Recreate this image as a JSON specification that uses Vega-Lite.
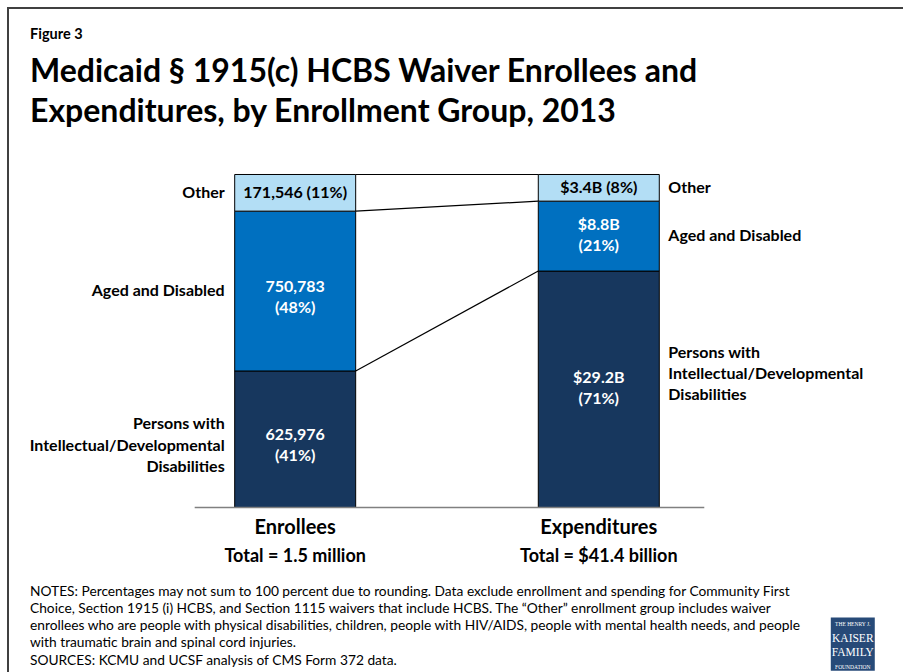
{
  "$schema": "https://vega.github.io/schema/vega-lite/v6.json",
  "width": 895,
  "height": 664,
  "autosize": {"type": "none"},
  "padding": {"left": 8, "top": 8, "right": 0, "bottom": 0},
  "background": "white",
  "config": {
    "view": {"stroke": "#404040", "strokeWidth": 2, "strokeDash": [895, 1559, 664]},
    "font": "Lato",
    "text": {"font": "Lato"}
  },
  "title": {
    "text": "Figure 3",
    "subtitle": ["Medicaid § 1915(c) HCBS Waiver Enrollees and", "Expenditures, by Enrollment Group, 2013"],
    "anchor": "start",
    "frame": "group",
    "orient": "top",
    "dx": 22,
    "offset": -121,
    "font": "Lato",
    "fontSize": 14.5,
    "fontWeight": "bold",
    "color": "black",
    "subtitleFont": "Lato",
    "subtitleFontSize": 32,
    "subtitleFontWeight": "bold",
    "subtitleColor": "black",
    "subtitleLineHeight": 40,
    "subtitlePadding": 15
  },
  "datasets": {
    "groups": [
      {"measure": "Enrollees", "category": "Persons with Intellectual/Developmental Disabilities", "rank": 1, "value": 625976, "pct": 41, "label": "625,976\n(41%)", "catLabel": "Persons with\nIntellectual/Developmental\nDisabilities"},
      {"measure": "Enrollees", "category": "Aged and Disabled", "rank": 2, "value": 750783, "pct": 48, "label": "750,783\n(48%)", "catLabel": "Aged and Disabled"},
      {"measure": "Enrollees", "category": "Other", "rank": 3, "value": 171546, "pct": 11, "label": "171,546 (11%)", "catLabel": "Other"},
      {"measure": "Expenditures", "category": "Persons with Intellectual/Developmental Disabilities", "rank": 1, "value": 29.2, "pct": 71, "label": "$29.2B\n(71%)", "catLabel": "Persons with\nIntellectual/Developmental\nDisabilities"},
      {"measure": "Expenditures", "category": "Aged and Disabled", "rank": 2, "value": 8.8, "pct": 21, "label": "$8.8B\n(21%)", "catLabel": "Aged and Disabled"},
      {"measure": "Expenditures", "category": "Other", "rank": 3, "value": 3.4, "pct": 8, "label": "$3.4B (8%)", "catLabel": "Other"}
    ],
    "totals": [
      {"measure": "Enrollees", "name": "Enrollees", "total": "Total = 1.5 million"},
      {"measure": "Expenditures", "name": "Expenditures", "total": "Total = $41.4 billion"}
    ],
    "notes": [
      {"text": "NOTES: Percentages may not sum to 100 percent due to rounding. Data exclude enrollment and spending for Community First\nChoice, Section 1915 (i) HCBS, and Section 1115 waivers that include HCBS. The “Other” enrollment group includes waiver\nenrollees who are people with physical disabilities, children, people with HIV/AIDS, people with mental health needs, and people\nwith traumatic brain and spinal cord injuries.\nSOURCES: KCMU and UCSF analysis of CMS Form 372 data."}
    ],
    "logo": [
      {"top": "THE HENRY J.", "big": "KAISER\nFAMILY", "bottom": "FOUNDATION"}
    ]
  },
  "layer": [
    {
      "data": {"name": "groups"},
      "transform": [
        {"stack": "pct", "groupby": ["measure"], "sort": [{"field": "rank"}], "offset": "normalize", "as": ["y0", "y1"]}
      ],
      "mark": {"type": "bar", "stroke": "black", "strokeWidth": 1},
      "encoding": {
        "x": {
          "field": "measure",
          "type": "nominal",
          "scale": {"type": "band", "domain": ["Enrollees", "Expenditures"], "paddingInner": 0.6015, "paddingOuter": 0.7747, "align": 0.4819},
          "axis": null
        },
        "y": {"field": "y0", "type": "quantitative", "scale": {"domain": [-0.494, 1.5], "nice": false, "zero": false}, "axis": null},
        "y2": {"field": "y1"},
        "color": {
          "field": "category",
          "type": "nominal",
          "scale": {"domain": ["Persons with Intellectual/Developmental Disabilities", "Aged and Disabled", "Other"], "range": ["#17375E", "#0070C0", "#B3DEF5"]},
          "legend": null
        }
      }
    },
    {
      "data": {"name": "groups"},
      "transform": [
        {"stack": "pct", "groupby": ["measure"], "sort": [{"field": "rank"}], "offset": "normalize", "as": ["y0", "y1"]},
        {"pivot": "measure", "value": "y1", "groupby": ["category"]}
      ],
      "mark": {"type": "rule", "color": "black", "strokeWidth": 1.2},
      "encoding": {
        "x": {"datum": "Enrollees", "type": "nominal", "bandPosition": 1, "axis": null},
        "x2": {"datum": "Expenditures", "bandPosition": 0},
        "y": {"field": "Enrollees", "type": "quantitative", "axis": null},
        "y2": {"field": "Expenditures"}
      }
    },
    {
      "data": {"values": [{}]},
      "mark": {"type": "rule", "color": "#808080", "strokeWidth": 1.5, "xOffset": -40, "x2Offset": 45},
      "encoding": {
        "x": {"datum": "Enrollees", "type": "nominal", "bandPosition": 0, "axis": null},
        "x2": {"datum": "Expenditures", "bandPosition": 1},
        "y": {"datum": 0, "type": "quantitative", "axis": null}
      }
    },
    {
      "data": {"name": "groups"},
      "transform": [
        {"stack": "pct", "groupby": ["measure"], "sort": [{"field": "rank"}], "offset": "normalize", "as": ["y0", "y1"]},
        {"fold": ["y0", "y1"], "as": ["k", "v"]},
        {"aggregate": [{"op": "mean", "field": "v", "as": "mid"}], "groupby": ["measure", "category", "label", "catLabel"]},
        {"filter": "datum.category === 'Other'"}
      ],
      "mark": {"type": "text", "font": "Lato", "fontSize": 16, "fontWeight": "bold", "baseline": "middle", "align": "center", "color": "black"},
      "encoding": {
        "x": {"field": "measure", "type": "nominal", "axis": null},
        "y": {"field": "mid", "type": "quantitative", "axis": null},
        "text": {"field": "label"}
      }
    },
    {
      "data": {"name": "groups"},
      "transform": [
        {"stack": "pct", "groupby": ["measure"], "sort": [{"field": "rank"}], "offset": "normalize", "as": ["y0", "y1"]},
        {"fold": ["y0", "y1"], "as": ["k", "v"]},
        {"aggregate": [{"op": "mean", "field": "v", "as": "mid"}], "groupby": ["measure", "category", "label", "catLabel"]},
        {"filter": "datum.category !== 'Other' && datum.measure === 'Enrollees'"}
      ],
      "mark": {"type": "text", "font": "Lato", "fontSize": 16, "fontWeight": "bold", "lineBreak": "\n", "lineHeight": 21, "baseline": "middle", "align": "center", "color": "white", "dy": -4.5},
      "encoding": {
        "x": {"field": "measure", "type": "nominal", "axis": null},
        "y": {"field": "mid", "type": "quantitative", "axis": null},
        "text": {"field": "label"}
      }
    },
    {
      "data": {"name": "groups"},
      "transform": [
        {"stack": "pct", "groupby": ["measure"], "sort": [{"field": "rank"}], "offset": "normalize", "as": ["y0", "y1"]},
        {"fold": ["y0", "y1"], "as": ["k", "v"]},
        {"aggregate": [{"op": "mean", "field": "v", "as": "mid"}], "groupby": ["measure", "category", "label", "catLabel"]},
        {"filter": "datum.category !== 'Other' && datum.measure === 'Expenditures'"}
      ],
      "mark": {"type": "text", "font": "Lato", "fontSize": 16, "fontWeight": "bold", "lineBreak": "\n", "lineHeight": 21, "baseline": "middle", "align": "center", "color": "white", "dy": -11},
      "encoding": {
        "x": {"field": "measure", "type": "nominal", "axis": null},
        "y": {"field": "mid", "type": "quantitative", "axis": null},
        "text": {"field": "label"}
      }
    },
    {
      "data": {"name": "groups"},
      "transform": [
        {"stack": "pct", "groupby": ["measure"], "sort": [{"field": "rank"}], "offset": "normalize", "as": ["y0", "y1"]},
        {"fold": ["y0", "y1"], "as": ["k", "v"]},
        {"aggregate": [{"op": "mean", "field": "v", "as": "mid"}], "groupby": ["measure", "category", "label", "catLabel", "rank"]},
        {"filter": "datum.measure === 'Enrollees' && datum.rank !== 1"}
      ],
      "mark": {"type": "text", "font": "Lato", "fontSize": 16, "fontWeight": "bold", "baseline": "middle", "align": "right", "dx": -10, "color": "black"},
      "encoding": {
        "x": {"field": "measure", "type": "nominal", "bandPosition": 0, "axis": null},
        "y": {"field": "mid", "type": "quantitative", "axis": null},
        "text": {"field": "catLabel"}
      }
    },
    {
      "data": {"name": "groups"},
      "transform": [
        {"stack": "pct", "groupby": ["measure"], "sort": [{"field": "rank"}], "offset": "normalize", "as": ["y0", "y1"]},
        {"fold": ["y0", "y1"], "as": ["k", "v"]},
        {"aggregate": [{"op": "mean", "field": "v", "as": "mid"}], "groupby": ["measure", "category", "label", "catLabel", "rank"]},
        {"filter": "datum.measure === 'Enrollees' && datum.rank === 1"}
      ],
      "mark": {"type": "text", "font": "Lato", "fontSize": 16, "fontWeight": "bold", "lineBreak": "\n", "lineHeight": 21.5, "baseline": "middle", "align": "right", "dx": -10, "dy": -15, "color": "black"},
      "encoding": {
        "x": {"field": "measure", "type": "nominal", "bandPosition": 0, "axis": null},
        "y": {"field": "mid", "type": "quantitative", "axis": null},
        "text": {"field": "catLabel"}
      }
    },
    {
      "data": {"name": "groups"},
      "transform": [
        {"stack": "pct", "groupby": ["measure"], "sort": [{"field": "rank"}], "offset": "normalize", "as": ["y0", "y1"]},
        {"fold": ["y0", "y1"], "as": ["k", "v"]},
        {"aggregate": [{"op": "mean", "field": "v", "as": "mid"}], "groupby": ["measure", "category", "label", "catLabel", "rank"]},
        {"filter": "datum.measure === 'Expenditures' && datum.rank !== 1"}
      ],
      "mark": {"type": "text", "font": "Lato", "fontSize": 16, "fontWeight": "bold", "baseline": "middle", "align": "left", "dx": 9, "color": "black"},
      "encoding": {
        "x": {"field": "measure", "type": "nominal", "bandPosition": 1, "axis": null},
        "y": {"field": "mid", "type": "quantitative", "axis": null},
        "text": {"field": "catLabel"}
      }
    },
    {
      "data": {"name": "groups"},
      "transform": [
        {"stack": "pct", "groupby": ["measure"], "sort": [{"field": "rank"}], "offset": "normalize", "as": ["y0", "y1"]},
        {"fold": ["y0", "y1"], "as": ["k", "v"]},
        {"aggregate": [{"op": "mean", "field": "v", "as": "mid"}], "groupby": ["measure", "category", "label", "catLabel", "rank"]},
        {"filter": "datum.measure === 'Expenditures' && datum.rank === 1"}
      ],
      "mark": {"type": "text", "font": "Lato", "fontSize": 16, "fontWeight": "bold", "lineBreak": "\n", "lineHeight": 21, "baseline": "middle", "align": "left", "dx": 9, "dy": -36, "color": "black"},
      "encoding": {
        "x": {"field": "measure", "type": "nominal", "bandPosition": 1, "axis": null},
        "y": {"field": "mid", "type": "quantitative", "axis": null},
        "text": {"field": "catLabel"}
      }
    },
    {
      "data": {"name": "totals"},
      "mark": {"type": "text", "font": "Lato", "fontSize": 20, "fontWeight": "bold", "baseline": "middle", "align": "center", "color": "black"},
      "encoding": {
        "x": {"field": "measure", "type": "nominal", "axis": null},
        "y": {"datum": -0.0616, "type": "quantitative", "axis": null},
        "text": {"field": "name"}
      }
    },
    {
      "data": {"name": "totals"},
      "mark": {"type": "text", "font": "Lato", "fontSize": 18, "fontWeight": "bold", "baseline": "middle", "align": "center", "color": "black"},
      "encoding": {
        "x": {"field": "measure", "type": "nominal", "axis": null},
        "y": {"datum": -0.1486, "type": "quantitative", "axis": null},
        "text": {"field": "total"}
      }
    },
    {
      "data": {"name": "notes"},
      "mark": {"type": "text", "font": "Lato", "fontSize": 13.75, "lineBreak": "\n", "lineHeight": 17.25, "baseline": "alphabetic", "align": "left", "dx": -204.7, "color": "black"},
      "encoding": {
        "x": {"datum": "Enrollees", "type": "nominal", "bandPosition": 0, "axis": null},
        "y": {"datum": -0.2643, "type": "quantitative", "axis": null},
        "text": {"field": "text"}
      }
    },
    {
      "data": {"name": "logo"},
      "mark": {"type": "bar", "color": "#274A78", "width": 44, "xOffset": 254},
      "encoding": {
        "x": {"datum": "Expenditures", "type": "nominal", "axis": null},
        "y": {"datum": -0.33, "type": "quantitative", "axis": null},
        "y2": {"datum": -0.49}
      }
    },
    {
      "data": {"name": "logo"},
      "mark": {"type": "text", "font": "Liberation Serif", "fontSize": 11.5, "lineBreak": "\n", "lineHeight": 14, "baseline": "middle", "align": "center", "color": "white", "dx": 254, "dy": -6},
      "encoding": {
        "x": {"datum": "Expenditures", "type": "nominal", "axis": null},
        "y": {"datum": -0.413, "type": "quantitative", "axis": null},
        "text": {"field": "big"}
      }
    },
    {
      "data": {"name": "logo"},
      "mark": {"type": "text", "font": "Liberation Serif", "fontSize": 5.5, "baseline": "middle", "align": "center", "color": "white", "dx": 254},
      "encoding": {
        "x": {"datum": "Expenditures", "type": "nominal", "axis": null},
        "y": {"datum": -0.35, "type": "quantitative", "axis": null},
        "text": {"field": "top"}
      }
    },
    {
      "data": {"name": "logo"},
      "mark": {"type": "text", "font": "Liberation Serif", "fontSize": 5.5, "baseline": "middle", "align": "center", "color": "white", "dx": 254},
      "encoding": {
        "x": {"datum": "Expenditures", "type": "nominal", "axis": null},
        "y": {"datum": -0.478, "type": "quantitative", "axis": null},
        "text": {"field": "bottom"}
      }
    }
  ]
}
